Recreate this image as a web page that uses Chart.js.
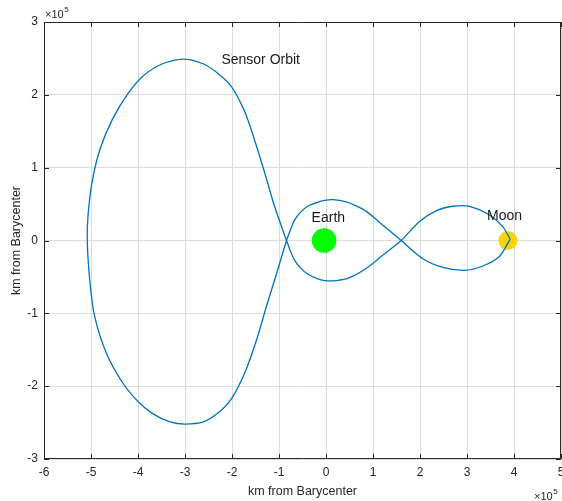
<!DOCTYPE html>
<html>
<head>
<meta charset="utf-8">
<title>Sensor Orbit</title>
<script src="https://cdn.jsdelivr.net/npm/chart.js@4.4.1/dist/chart.umd.min.js"></script>
<style>
  html, body { margin: 0; padding: 0; background: #fff; }
  #wrap { width: 562px; height: 501px; }
</style>
</head>
<body>
<div id="wrap"><canvas id="orbit" width="562" height="501"></canvas></div>
<script>
// positions in units of 10^5 km from the Earth-Moon barycenter
const orbitX = [
  3.92, 3.76, 3.48, 3.05, 2.70, 2.35, 1.99, 1.60,
  1.21, 0.86, 0.50, 0.22, -0.03, -0.20, -0.39, -0.54, -0.67, -0.76, -0.84,
  -1.09, -1.30, -1.52, -1.73, -2.01, -2.33, -2.63, -3.05, -3.50, -3.89, -4.21, -4.54, -4.80, -4.97, -5.06, -5.08,
  -5.02, -4.92, -4.67, -4.32, -4.00, -3.68, -3.32, -3.00, -2.61, -2.30, -2.01, -1.73, -1.48, -1.27, -1.05, -0.84,
  -0.76, -0.67, -0.54, -0.39, -0.20, -0.03, 0.15, 0.43, 0.63, 0.86, 1.21, 1.60,
  2.06, 2.49, 2.95, 3.34, 3.69, 3.92
];
const orbitY = [
  0.02, 0.19, 0.35, 0.47, 0.47, 0.41, 0.26, 0.00,
  -0.20, -0.38, -0.51, -0.55, -0.55, -0.52, -0.46, -0.38, -0.27, -0.14, 0.00,
  0.46, 0.92, 1.38, 1.77, 2.11, 2.31, 2.43, 2.49, 2.42, 2.26, 2.02, 1.67, 1.27, 0.83, 0.37, 0.00,
  -0.59, -1.05, -1.55, -1.96, -2.21, -2.38, -2.49, -2.52, -2.49, -2.37, -2.17, -1.82, -1.37, -0.91, -0.45, 0.00,
  0.14, 0.28, 0.39, 0.47, 0.52, 0.55, 0.56, 0.53, 0.48, 0.40, 0.21, 0.00,
  -0.25, -0.37, -0.41, -0.35, -0.22, 0.02
];

const earthPos = [-0.04, 0];
const moonPos = [3.87, 0];

const xTicks = [-6, -5, -4, -3, -2, -1, 0, 1, 2, 3, 4, 5];
const yTicks = [-3, -2, -1, 0, 1, 2, 3];

const textLabels = ["Sensor Orbit", "Earth", "Moon"];
const textX = [-1.39, 0.05, 3.80];
const textY = [2.47, 0.31, 0.34];

const axisColor = "#262626";
const fontFamily = '"Liberation Sans", Arial, Helvetica, sans-serif';

const orbitPoints = orbitX.map((x, i) => ({ x: x, y: orbitY[i] }));

// draws "x10^5" with the exponent raised
function drawMultiplier(ctx, left, baseline) {
  ctx.font = "11px " + fontFamily;
  ctx.fillText("\u00d710", left, baseline);
  const w = ctx.measureText("\u00d710").width;
  ctx.font = "8px " + fontFamily;
  ctx.fillText("5", left + w + 0.5, baseline - 6);
}

// MATLAB style box: full frame, inward ticks, annotations and exponent markers
const framePlugin = {
  id: "frame",
  afterDraw(chart) {
    const ctx = chart.ctx;
    const area = chart.chartArea;
    const xs = chart.scales.x;
    const ys = chart.scales.y;
    const tick = 5;

    ctx.save();
    ctx.strokeStyle = axisColor;
    ctx.lineWidth = 1;
    ctx.beginPath();
    ctx.rect(area.left + 0.5, area.top + 0.5, area.right - area.left - 1, area.bottom - area.top - 1);
    xTicks.forEach((v) => {
      const px = Math.round(xs.getPixelForValue(v)) + 0.5;
      ctx.moveTo(px, area.bottom);
      ctx.lineTo(px, area.bottom - tick);
      ctx.moveTo(px, area.top);
      ctx.lineTo(px, area.top + tick);
    });
    yTicks.forEach((v) => {
      const py = Math.round(ys.getPixelForValue(v)) + 0.5;
      ctx.moveTo(area.left, py);
      ctx.lineTo(area.left + tick, py);
      ctx.moveTo(area.right, py);
      ctx.lineTo(area.right - tick, py);
    });
    ctx.stroke();

    // text annotations
    ctx.fillStyle = "#1a1a1a";
    ctx.font = "14px " + fontFamily;
    ctx.textAlign = "center";
    ctx.textBaseline = "middle";
    textLabels.forEach((t, i) => {
      ctx.fillText(t, xs.getPixelForValue(textX[i]), ys.getPixelForValue(textY[i]));
    });

    // x10^5 multipliers
    ctx.fillStyle = axisColor;
    ctx.textBaseline = "alphabetic";
    ctx.textAlign = "left";
    drawMultiplier(ctx, area.left + 1, area.top - 4);
    drawMultiplier(ctx, area.right - 27, chart.height - 1);
    ctx.restore();
  },
};

Chart.defaults.font.family = fontFamily;
Chart.defaults.color = axisColor;

new Chart(document.getElementById("orbit"), {
  type: "scatter",
  data: {
    datasets: [
      {
        label: "Sensor Orbit",
        data: orbitPoints,
        showLine: true,
        borderColor: "#0072BD",
        borderWidth: 1.3,
        pointRadius: 0,
        tension: 0.25,
        fill: false,
      },
      {
        label: "Moon",
        data: [{ x: moonPos[0], y: moonPos[1] }],
        pointRadius: 9.5,
        backgroundColor: "#FFD400",
        borderWidth: 0,
      },
      {
        label: "Earth",
        data: [{ x: earthPos[0], y: earthPos[1] }],
        pointRadius: 12.3,
        backgroundColor: "#00FF00",
        borderWidth: 0,
      },
    ],
  },
  options: {
    responsive: false,
    animation: false,
    devicePixelRatio: 1,
    layout: {
      autoPadding: false,
      padding: { top: 22, right: 1, left: 0, bottom: 0 },
    },
    plugins: {
      legend: { display: false },
      tooltip: { enabled: false },
    },
    scales: {
      x: {
        type: "linear",
        min: -6,
        max: 5,
        afterBuildTicks: (scale) => {
          scale.ticks = xTicks.map((v) => ({ value: v }));
        },
        afterFit: (scale) => {
          scale.height = 42;
          scale.paddingLeft = 0;
          scale.paddingRight = 0;
        },
        grid: { color: "#dcdcdc", drawTicks: false },
        border: { display: false },
        ticks: {
          padding: 6,
          font: { size: 12 },
          color: axisColor,
        },
        title: {
          display: true,
          text: "km from Barycenter",
          font: { size: 12.5 },
          color: axisColor,
          padding: { top: 0, bottom: 2 },
        },
      },
      y: {
        type: "linear",
        min: -3,
        max: 3,
        afterBuildTicks: (scale) => {
          scale.ticks = yTicks.map((v) => ({ value: v }));
        },
        afterFit: (scale) => {
          scale.width = 44;
          scale.paddingTop = 0;
          scale.paddingBottom = 0;
        },
        grid: { color: "#dcdcdc", drawTicks: false },
        border: { display: false },
        ticks: {
          padding: 6,
          font: { size: 12 },
          color: axisColor,
        },
        title: {
          display: true,
          text: "km from Barycenter",
          font: { size: 12.5 },
          color: axisColor,
          padding: { top: 9, bottom: 0 },
        },
      },
    },
  },
  plugins: [framePlugin],
});
</script>
</body>
</html>
